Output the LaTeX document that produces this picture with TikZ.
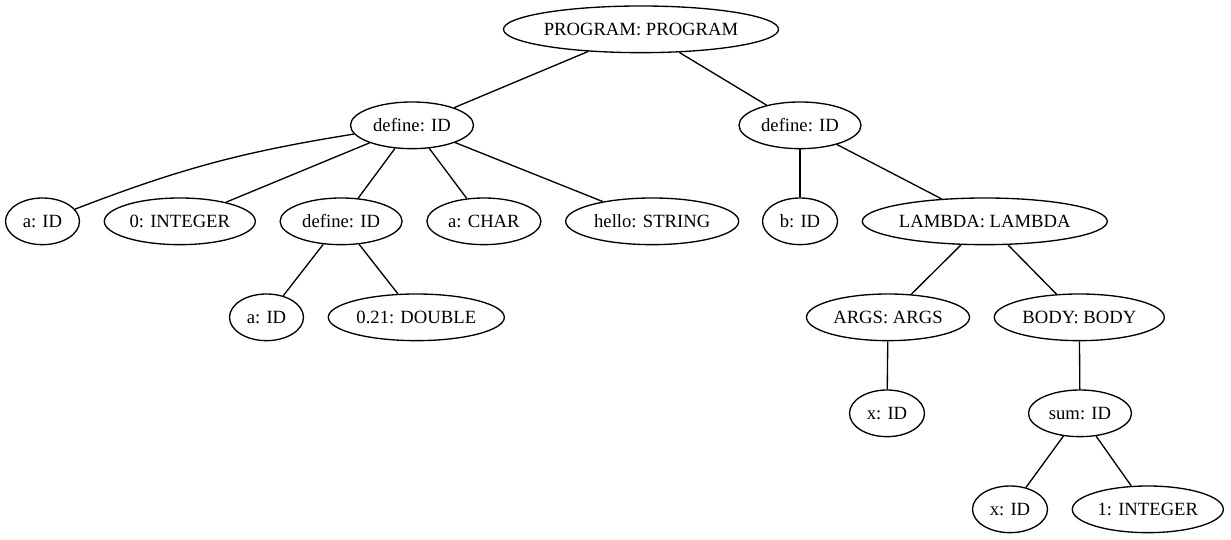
\documentclass[tikz,border=0pt]{standalone}
\usepackage{fontspec}
\setmainfont{Liberation Serif}
\usetikzlibrary{shapes.geometric, positioning}
\tikzset{
  % Syntax tree nodes
  astnode/.style={
    ellipse, draw=black, fill=white, text=black,
    line width=1pt, inner sep=0pt,
    minimum width=#1*0.75pt, minimum height=35pt,
    font=\fontsize{14}{16}\selectfont,
  },
  astnode/.default={71},
  % Tree edges
  astedge/.style={draw=black, line width=1pt},
}
\begin{document}
\begin{tikzpicture}[x=0.75pt, y=0.75pt, node distance=17.6pt]
  \useasboundingbox (0,0) rectangle (1231,539);

  % Root
  \node[astnode=271] (prog) at (641,509.67) {PROGRAM: PROGRAM};

  % Top level definitions
  \node[astnode=123] (defa) at (412,413.67) {define: ID};
  \node[astnode=122] (defb) at (800,413.67) {define: ID};

  % Children of the first define
  \node[astnode=74] (aid) at (42.5,317.67) {a: ID};
  \node[astnode=151, right=of aid] (intzero) {0: INTEGER};
  \node[astnode=122, right=of intzero] (defc) {define: ID};
  \node[astnode=114, right=of defc] (achar) {a: CHAR};
  \node[astnode=173, right=of achar] (hello) {hello: STRING};

  % Children of the second define
  \node[astnode=75] (bid) at (800,317.67) {b: ID};
  \node[astnode=245, right=of bid] (lambda) {LAMBDA: LAMBDA};

  % Nested define
  \node[astnode=74] (aidb) at (266.5,221.67) {a: ID};
  \node[astnode=176, right=of aidb] (double) {0.21: DOUBLE};

  % Lambda parts
  \node[astnode=163] (args) at (888,221.67) {ARGS: ARGS};
  \node[astnode=170, right=of args] (body) {BODY: BODY};
  \node[astnode=75] (xid) at (887,125.67) {x: ID};
  \node[astnode=103] (sum) at (1080,125.67) {sum: ID};
  \node[astnode=75] (xidb) at (1010,29.67) {x: ID};
  \node[astnode=151, right=of xidb] (intone) {1: INTEGER};

  % Edges
  \draw[astedge] (prog) -- (defa);
  \draw[astedge] (prog) -- (defb);
  \draw[astedge] (defa) to[bend right=6] (aid);
  \draw[astedge] (defa) -- (intzero);
  \draw[astedge] (defa) -- (defc);
  \draw[astedge] (defa) -- (achar);
  \draw[astedge] (defa) -- (hello);
  \draw[astedge] (defb) -- (bid);
  \draw[astedge] (defb) -- (lambda);
  \draw[astedge] (defc) -- (aidb);
  \draw[astedge] (defc) -- (double);
  \draw[astedge] (lambda) -- (args);
  \draw[astedge] (lambda) -- (body);
  \draw[astedge] (args) -- (xid);
  \draw[astedge] (body) -- (sum);
  \draw[astedge] (sum) -- (xidb);
  \draw[astedge] (sum) -- (intone);

\end{tikzpicture}
\end{document}
